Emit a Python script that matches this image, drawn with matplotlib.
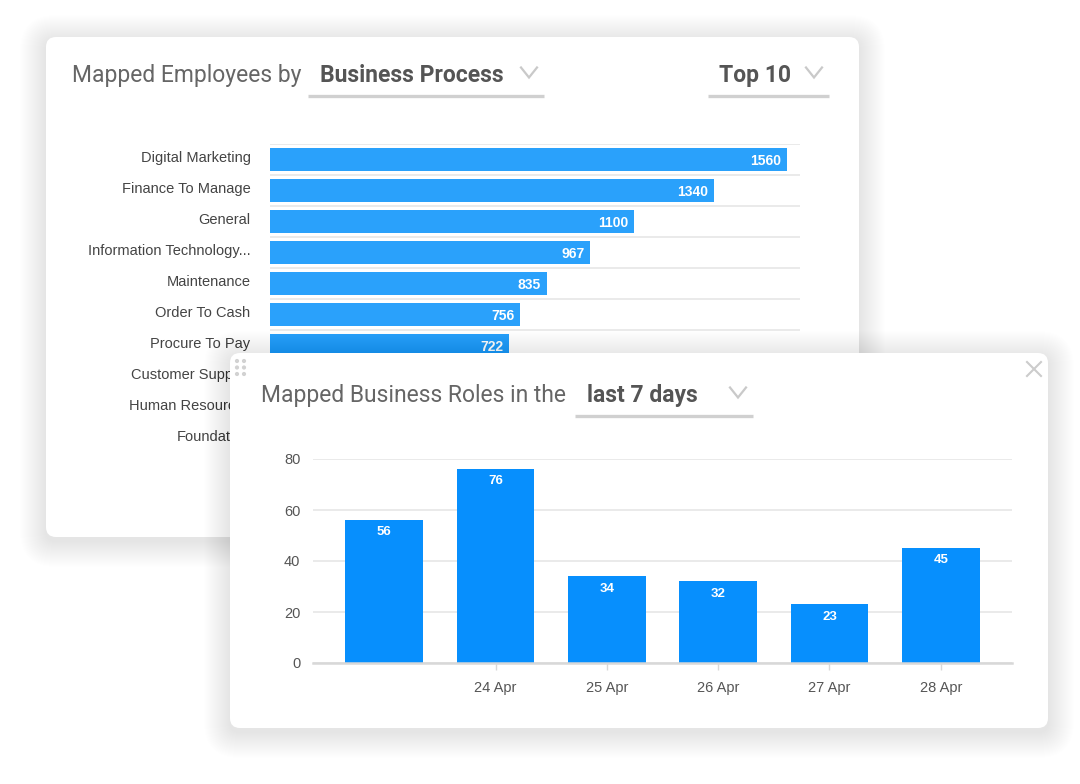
import matplotlib.pyplot as plt
import matplotlib.transforms as mtransforms
from matplotlib.patches import FancyBboxPatch, Circle

# --- data ---
processes = [
    "Digital Marketing", "Finance To Manage", "General",
    "Information Technology...", "Maintenance", "Order To Cash",
    "Procure To Pay", "Customer Support", "Human Resources", "Foundation",
]
employees = [1560, 1340, 1100, 967, 835, 756, 722, 690, 655, 610]

days = ["", "24 Apr", "25 Apr", "26 Apr", "27 Apr", "28 Apr"]
roles = [56, 76, 34, 32, 23, 45]

W, H = 1080, 784
TITLE_FONT = "Roboto"
LABEL_FONT = "Liberation Sans"

fig = plt.figure(figsize=(W / 100, H / 100), dpi=100)
fig.patch.set_facecolor("white")


def px_axes(x0, y0, x1, y1, zorder):
    """Axes placed with pixel coords measured from the top-left."""
    return fig.add_axes([x0 / W, 1 - y1 / H, (x1 - x0) / W, (y1 - y0) / H], zorder=zorder)


def canvas(zorder):
    ax = fig.add_axes([0, 0, 1, 1], zorder=zorder)
    ax.set_xlim(0, W)
    ax.set_ylim(H, 0)
    ax.axis("off")
    ax.patch.set_alpha(0)
    return ax


def card(ax, x0, y0, x1, y1):
    # soft, wide drop shadow from stacked translucent boxes
    for i in range(26, 0, -1):
        ax.add_patch(FancyBboxPatch(
            (x0 - i, y0 - i + 4), x1 - x0 + 2 * i, y1 - y0 + 2 * i,
            boxstyle=f"round,pad=0,rounding_size={10 + i}",
            fc="black", ec="none", alpha=0.0024))
    ax.add_patch(FancyBboxPatch(
        (x0, y0), x1 - x0, y1 - y0, boxstyle="round,pad=0,rounding_size=10",
        fc="white", ec="none"))


def chevron(ax, cx, cy):
    ax.plot([cx - 8, cx, cx + 8], [cy - 5, cy + 5, cy - 5], color="#c9c9c9", lw=1.6,
            solid_joinstyle="miter")


def title(ax, x, y, plain, bold_x, bold, line_x0, line_x1, chev_x):
    ax.text(x, y, plain, fontsize=16.5, color="#666666", family=TITLE_FONT, va="baseline")
    ax.text(bold_x, y, bold, fontsize=16.5, color="#555555", family=TITLE_FONT,
            fontweight="bold", va="baseline")
    ax.plot([line_x0, line_x1], [y + 14.5, y + 14.5], color="#d0d0d0", lw=2.4,
            solid_capstyle="butt")
    chevron(ax, chev_x, y - 9)


# ---------------- card 1 ----------------
bg = canvas(0)
card(bg, 46, 37, 859, 537)
title(bg, 72, 81.5, "Mapped Employees by", 320, "Business Process", 308, 544, 529)
bg.text(719, 81.5, "Top 10", fontsize=16.5, color="#555555", family=TITLE_FONT,
        fontweight="bold", va="baseline")
bg.plot([708, 829], [96, 96], color="#d0d0d0", lw=2.4, solid_capstyle="butt")
chevron(bg, 814, 72.5)

ax1 = px_axes(270, 144, 800, 454, 1)
ax1.patch.set_alpha(0)
rows = range(len(processes))
ax1.hlines([r - 0.5 for r in rows], 0, 1600, color="#e6e6e6", lw=1.2, zorder=0)
ax1.barh(list(rows), employees, height=0.71, color="#2aa1fb", zorder=2)
# value labels; the last rows sit under the second card, so they are not labelled
for r, v in zip(rows, employees):
    if r > 6:
        continue
    ax1.text(v - 18, r + 0.05, str(v), ha="right", va="center", color="white",
             fontsize=10, fontweight="bold", family=LABEL_FONT, zorder=3)
ax1.set_xlim(0, 1600)
ax1.set_ylim(len(processes) - 0.5, -0.5)
ax1.set_yticks(list(rows))
ax1.set_yticklabels(processes, fontsize=10.5, color="#444444", family=LABEL_FONT)
ax1.tick_params(axis="y", length=0, pad=14)
lift = mtransforms.ScaledTranslation(0, 3 / 100, fig.dpi_scale_trans)
for lab in ax1.get_yticklabels():
    lab.set_transform(lab.get_transform() + lift)
ax1.set_xticks([])
for s in ax1.spines.values():
    s.set_visible(False)

# ---------------- card 2 ----------------
fg = canvas(2)
card(fg, 230, 353, 1048, 728)
title(fg, 261, 401.5, "Mapped Business Roles in the", 587, "last 7 days", 575, 753, 738)
# close cross
fg.plot([1027, 1041], [362, 376], color="#cccccc", lw=1.5)
fg.plot([1027, 1041], [376, 362], color="#cccccc", lw=1.5)
# drag handle dots
for dx in (237, 244):
    for dy in (361, 367.5, 374):
        fg.add_patch(Circle((dx, dy), 2.1, fc="#d2d2d2", ec="none"))

ax2 = px_axes(313, 459, 1012, 663, 3)
ax2.patch.set_alpha(0)
pos = list(range(len(days)))
ax2.bar(pos, roles, width=0.70, color="#078ffd", zorder=2)
for p, v in zip(pos, roles):
    ax2.text(p, v - 4.8, str(v), ha="center", va="center", color="white",
             fontsize=9.5, fontweight="bold", family=LABEL_FONT, zorder=3)
ax2.set_xlim(-0.64, len(days) - 0.36)
ax2.set_ylim(0, 80)
ax2.set_yticks([0, 20, 40, 60, 80])
ax2.yaxis.grid(True, color="#e6e6e6", lw=1.2)
ax2.set_axisbelow(True)
labelled = [p for p, d in zip(pos, days) if d]
ax2.set_xticks(labelled)
ax2.set_xticklabels([d for d in days if d])
ax2.tick_params(axis="y", length=0, pad=9, labelsize=10.5, labelcolor="#555555")
ax2.tick_params(axis="x", length=5, width=1, color="#d8d8d8", pad=8,
                labelsize=10.5, labelcolor="#555555")
for lab in ax2.get_xticklabels() + ax2.get_yticklabels():
    lab.set_family(LABEL_FONT)
for k in ("top", "right", "left"):
    ax2.spines[k].set_visible(False)
ax2.spines["bottom"].set_color("#d8d8d8")
ax2.spines["bottom"].set_linewidth(1.8)

fig.savefig("out.png", dpi=100)
